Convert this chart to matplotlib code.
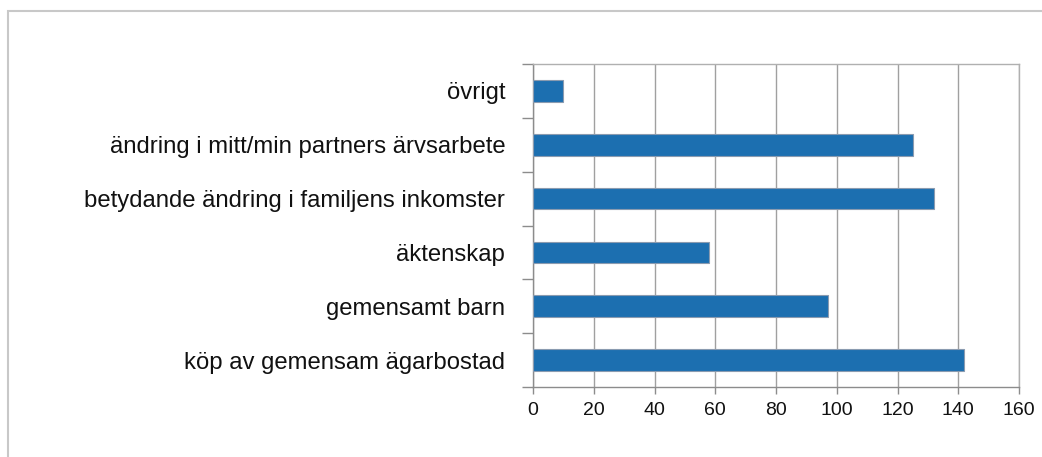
import matplotlib.pyplot as plt
from matplotlib.patches import Rectangle
from matplotlib.ticker import FixedLocator
import numpy as np

plt.rcParams['font.family'] = ['Liberation Sans', 'DejaVu Sans']

categories = ['köp av gemensam ägarbostad', 'gemensamt barn', 'äktenskap',
              'betydande ändring i familjens inkomster',
              'ändring i mitt/min partners ärvsarbete', 'övrigt']
values = [142, 97, 58, 132, 125, 10]
xticks = [0, 20, 40, 60, 80, 100, 120, 140, 160]

grid_c = '#a0a0a0'
axis_c = '#8c8c8c'

fig = plt.figure(figsize=(10.42, 4.57), dpi=100)
fig.patches.append(Rectangle((8 / 1042, -0.1), 1.2, 1 - 11 / 457 + 0.1,
                             transform=fig.transFigure, fill=False,
                             edgecolor='#c8c8c8', linewidth=1.5))

ax = fig.add_axes([533 / 1042, 1 - 387 / 457, (1019 - 533) / 1042, (387 - 64) / 457])
y = np.arange(len(categories))
ax.barh(y, values, height=0.4, color='#1c6fb0', edgecolor='#8a9bb0', linewidth=0.8, zorder=3)

ax.set_xlim(0, 160)
ax.set_ylim(-0.5, len(categories) - 0.5)
ax.set_xticks(xticks)
ax.set_yticks(y)
ax.set_yticklabels(categories, fontsize=17.2, color='#111111')
ax.yaxis.set_minor_locator(FixedLocator(np.arange(-0.5, len(categories), 1.0)))
ax.tick_params(axis='y', which='major', length=0, pad=20)
ax.tick_params(axis='y', which='minor', length=8, color=axis_c, width=1)
ax.tick_params(axis='x', length=5, color=axis_c, width=1, labelsize=14,
               labelcolor='#111111', pad=6)

ax.grid(axis='x', color=grid_c, linewidth=1, zorder=0)
ax.set_axisbelow(True)
for side in ['left', 'bottom']:
    ax.spines[side].set_color(axis_c)
    ax.spines[side].set_linewidth(1)
for side in ['top', 'right']:
    ax.spines[side].set_color('#b0b0b0')
    ax.spines[side].set_linewidth(1)

fig.savefig('out.png', dpi=100)
